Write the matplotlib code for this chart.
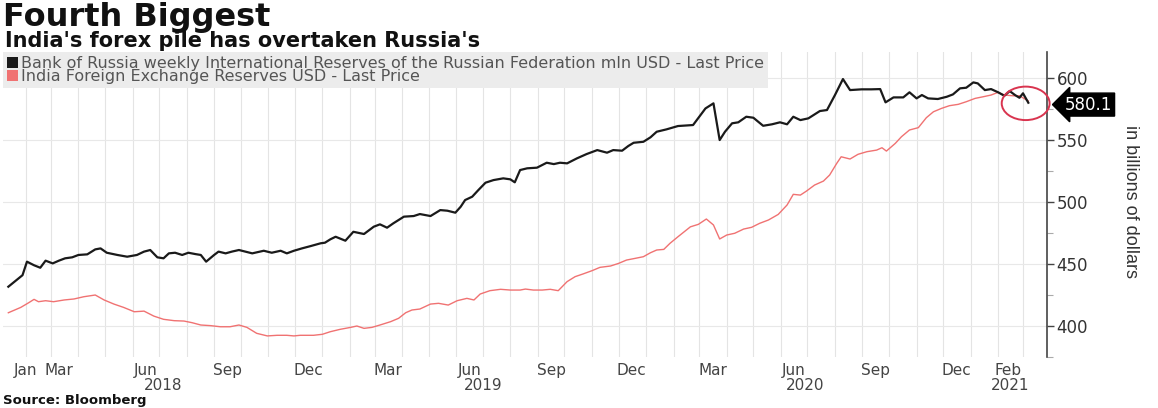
import matplotlib
matplotlib.use("Agg")
import matplotlib.pyplot as plt
import matplotlib.dates as mdates
import matplotlib.transforms as mtransforms
from matplotlib.patches import Patch, Ellipse
import pandas as pd

# ---------------- data ----------------
BASE = "2018-01-01"
# day offsets from 2018-01-01 and values (USD bn)
russia_days = [11, 27, 32, 40, 47, 53, 61, 68, 75, 83, 90, 100, 109, 115, 122, 134, 145, 156, 164, 171,
               179, 186, 192, 199, 207, 214, 222, 228, 234, 243, 248, 256, 263, 271, 278, 286, 299, 308,
               318, 325, 333, 342, 352, 363, 368, 374, 380, 391, 400, 412, 423, 430, 438, 445, 457, 468,
               475, 487, 498, 506, 515, 521, 526, 534, 541, 549, 558, 569, 577, 582, 588, 596, 607, 618,
               626, 633, 641, 652, 663, 675, 686, 693, 703, 710, 716, 727, 735, 742, 753, 766, 783, 797,
               806, 813, 819, 827, 834, 843, 851, 862, 872, 881, 889, 896, 904, 913, 920, 926, 934, 943,
               952, 960, 973, 984, 994, 1000, 1009, 1020, 1027, 1035, 1041, 1048, 1059, 1069, 1076, 1084,
               1091, 1099, 1104, 1112, 1119, 1127, 1134, 1140, 1146, 1151, 1155, 1161]
russia_vals = [431.7, 441.0, 451.9, 449.0, 447.0, 452.7, 450.5, 452.7, 454.6, 455.4, 457.3, 457.8, 461.8,
               462.6, 459.1, 457.3, 455.9, 457.3, 460.0, 461.3, 455.4, 454.6, 458.6, 459.1, 457.3, 459.1,
               458.0, 457.3, 451.9, 457.3, 460.0, 458.6, 460.0, 461.3, 460.0, 458.6, 460.7, 459.1, 460.7,
               458.6, 460.7, 462.6, 464.5, 466.7, 467.2, 469.9, 472.0, 468.8, 476.0, 474.2, 480.1, 482.0,
               479.3, 482.8, 488.2, 488.7, 490.3, 488.7, 493.5, 493.0, 491.4, 496.2, 501.6, 504.3, 509.7,
               515.6, 517.7, 519.1, 518.3, 515.9, 525.8, 527.2, 527.7, 531.7, 530.6, 531.7, 531.2, 535.2,
               538.7, 541.9, 539.8, 541.9, 541.4, 545.2, 547.8, 548.6, 552.2, 556.7, 558.6, 561.3, 562.1,
               575.5, 579.6, 550.0, 556.7, 563.5, 564.3, 568.8, 568.0, 561.5, 562.7, 564.3, 562.7, 568.8,
               566.1, 567.5, 570.7, 573.4, 574.2, 586.3, 599.2, 590.3, 590.9, 590.9, 591.1, 580.4, 584.4,
               584.4, 588.5, 583.6, 586.3, 583.6, 583.1, 584.9, 586.8, 591.7, 592.2, 596.5, 595.7, 590.3,
               591.1, 588.5, 585.7, 589.5, 586.3, 584.1, 587.7, 580.1]

india_days = [11, 25, 34, 40, 45, 53, 62, 74, 85, 96, 109, 119, 130, 141, 153, 164, 175, 186, 198, 209,
              218, 228, 239, 250, 261, 271, 280, 291, 303, 314, 325, 333, 340, 355, 365, 374, 385, 397,
              404, 412, 421, 430, 442, 451, 459, 466, 475, 487, 496, 507, 517, 528, 536, 543, 554, 566,
              577, 588, 594, 603, 613, 622, 631, 641, 650, 659, 669, 678, 690, 699, 708, 718, 727, 735,
              742, 750, 757, 766, 780, 789, 798, 806, 813, 821, 830, 840, 849, 858, 868, 879, 889, 896,
              904, 911, 920, 930, 937, 945, 950, 960, 969, 979, 990, 996, 1001, 1011, 1018, 1027, 1037,
              1046, 1054, 1063, 1072, 1082, 1091, 1101, 1110, 1119, 1127, 1134, 1144, 1151, 1161]
india_vals = [410.7, 415.0, 418.8, 421.5, 419.6, 420.4, 419.6, 421.0, 421.8, 423.6, 425.0, 421.0, 417.7,
              415.0, 411.5, 412.0, 408.0, 405.4, 404.3, 404.0, 402.7, 400.8, 400.3, 399.4, 399.4, 400.8,
              398.9, 394.1, 392.0, 392.5, 392.5, 392.0, 392.5, 392.5, 393.3, 395.4, 397.3, 398.9, 400.0,
              398.1, 398.9, 400.8, 403.5, 406.2, 410.7, 412.9, 413.7, 417.7, 418.3, 416.9, 420.4, 422.3,
              421.0, 425.8, 428.5, 429.6, 429.0, 429.0, 429.8, 429.0, 429.0, 429.6, 428.5, 435.8, 439.8,
              442.0, 444.6, 447.3, 448.4, 450.5, 453.2, 454.6, 455.9, 459.1, 461.3, 461.8, 466.7, 472.0,
              480.0, 482.0, 486.3, 481.5, 470.2, 473.4, 474.8, 478.2, 479.6, 482.8, 485.5, 490.0, 497.6,
              506.2, 505.6, 508.9, 513.7, 516.9, 521.8, 531.2, 536.5, 534.7, 538.5, 540.6, 541.9, 543.8,
              541.1, 547.3, 552.7, 558.1, 560.0, 568.0, 572.8, 575.5, 577.7, 578.8, 580.9, 583.6, 584.9,
              586.3, 588.5, 586.3, 585.7, 585.7, 581.5]

series_names = ["Bank of Russia weekly International Reserves of the Russian Federation mln USD - Last Price",
                "India Foreign Exchange Reserves USD - Last Price"]
month_tick_dates = ["2018-01-31", "2018-03-10", "2018-06-16", "2018-09-16", "2018-12-16", "2019-03-16",
                    "2019-06-16", "2019-09-16", "2019-12-16", "2020-03-16", "2020-06-16", "2020-09-16",
                    "2020-12-16", "2021-02-12"]
month_tick_labels = ["Jan", "Mar", "Jun", "Sep", "Dec", "Mar", "Jun", "Sep", "Dec", "Mar", "Jun", "Sep",
                     "Dec", "Feb"]
year_label_dates = ["2018-07-05", "2019-07-01", "2020-06-28", "2021-02-14"]
year_labels = ["2018", "2019", "2020", "2021"]
y_ticks = [400, 450, 500, 550, 600]

title = "Fourth Biggest"
subtitle = "India's forex pile has overtaken Russia's"
source = "Source: Bloomberg"
ylabel = "in billions of dollars"

# ---------------- plot ----------------
base = pd.Timestamp(BASE)
r_dates = base + pd.to_timedelta(russia_days, unit="D")
i_dates = base + pd.to_timedelta(india_days, unit="D")

BLACK = "#1a1a1a"
RED = "#f07272"

fig = plt.figure(figsize=(11.58, 4.08), dpi=100)
ax = fig.add_axes([0.0026, 0.125, 0.9015, 0.7475])

ax.plot(i_dates, india_vals, color=RED, lw=1.0, zorder=3)
ax.plot(r_dates, russia_vals, color=BLACK, lw=1.6, zorder=4)

ax.set_xlim(pd.Timestamp("2018-01-06"), pd.Timestamp("2021-03-28"))
ax.set_ylim(375, 621)

# grid
ax.xaxis.set_minor_locator(mdates.MonthLocator())
ax.grid(True, which="minor", axis="x", color="#e4e4e4", lw=0.8)
ax.yaxis.set_major_locator(plt.FixedLocator(y_ticks))
ax.yaxis.set_minor_locator(plt.FixedLocator([375, 425, 475, 525, 575]))
ax.grid(True, which="major", axis="y", color="#e8e8e8", lw=0.8)
ax.set_axisbelow(True)

# spines
for s in ["left", "top", "bottom"]:
    ax.spines[s].set_visible(False)
ax.spines["right"].set_color("#444444")
ax.spines["right"].set_linewidth(1.2)

ax.yaxis.tick_right()
ax.tick_params(axis="y", which="major", direction="out", length=5, width=1.0, color="#444444",
               labelsize=12, labelcolor="#333333", pad=2)
ax.tick_params(axis="y", which="minor", direction="out", length=4, width=0.8, color="#aaaaaa")

# x tick labels
ax.set_xticks(pd.to_datetime(month_tick_dates))
ax.set_xticklabels(month_tick_labels)
ax.tick_params(axis="x", which="both", length=0, labelsize=11, labelcolor="#444444", pad=4)

trans = mtransforms.blended_transform_factory(ax.transData, ax.transAxes)
for d, lab in zip(pd.to_datetime(year_label_dates), year_labels):
    ax.text(d, -0.068, lab, transform=trans, ha="center", va="top", fontsize=11,
            color="#444444", clip_on=False)

# legend
handles = [Patch(facecolor=BLACK, edgecolor="none"), Patch(facecolor=RED, edgecolor="none")]
leg = ax.legend(handles, series_names, loc="upper left", bbox_to_anchor=(0.0, 1.0),
                frameon=True, fancybox=False, facecolor="#ececec", edgecolor="none", framealpha=1,
                borderaxespad=0, borderpad=0.25, handlelength=0.7, handleheight=0.7,
                handletextpad=0.2, labelspacing=-0.1, fontsize=11.5, labelcolor="#555555")
leg.set_zorder(5)

# last value marker label
last_date = r_dates[-1]
last_val = russia_vals[-1]
ytrans = mtransforms.blended_transform_factory(ax.transAxes, ax.transData)
ax.text(1.017, last_val - 1.5, f"{last_val:.1f}", transform=ytrans, ha="left", va="center",
        fontsize=12, color="white", clip_on=False, zorder=10,
        bbox=dict(boxstyle="larrow,pad=0.15", fc="black", ec="black"))

# highlight circle around the latest values
circ = Ellipse((mdates.date2num(last_date - pd.Timedelta(days=3)), last_val - 0.5),
               width=54, height=27, fill=False, edgecolor="#d9344f", lw=1.4, zorder=6, clip_on=False)
ax.add_patch(circ)

# y label
fig.text(0.976, 0.505, ylabel, rotation=270, ha="center", va="center", fontsize=13,
         color="#333333", family=["Liberation Sans", "DejaVu Sans"])

# titles and source
fig.text(0.0026, 0.995, title, ha="left", va="top", fontsize=23, fontweight="bold", color="#111111")
fig.text(0.004, 0.925, subtitle, ha="left", va="top", fontsize=15, fontweight="bold", color="#111111")
fig.text(0.003, 0.002, source, ha="left", va="bottom", fontsize=9.5, fontweight="bold", color="#111111")

fig.savefig("out.png", dpi=100)
